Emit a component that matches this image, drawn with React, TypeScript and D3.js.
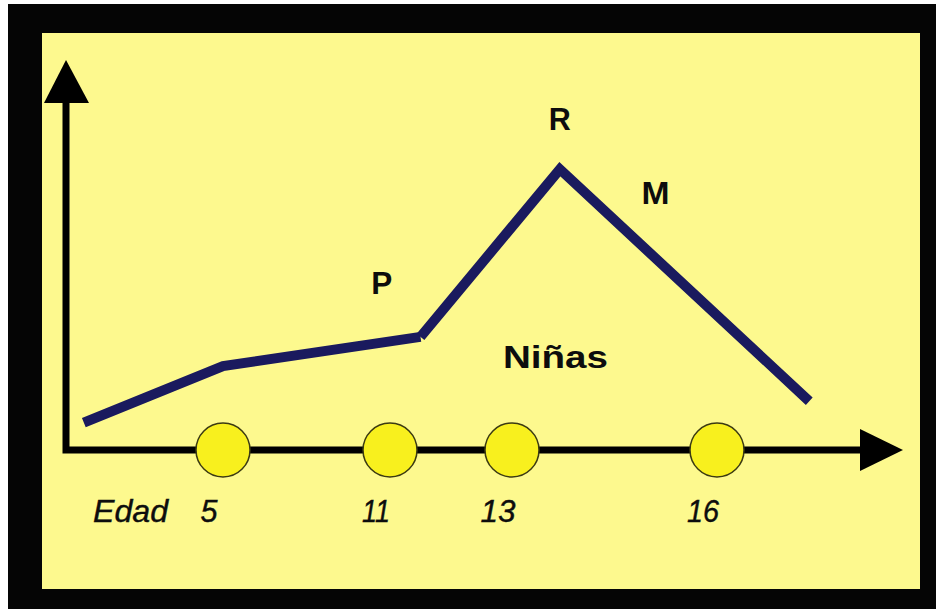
import React from "react";
import * as d3 from "d3";

// Ages marked on the horizontal axis
const ageTicks = [5, 11, 13, 16];
const ageTickLabels = ["5", "11", "13", "16"];

// Growth-velocity curve for girls (schematic units 0–100)
const curveAges = [0, 5, 11.5, 13.7, 17.35];
const curveValues = [7, 21.5, 29, 72, 12.5];

// Phase labels: P (prepuberal), R (rapid growth), M (maturation)
const phaseLabels = ["P", "R", "M"];
const phaseAges = [10.7, 13.7, 15.1];
const phaseValues = [40, 82, 63];

const W = 936;
const H = 609;

export default function App() {
  // Piecewise age scale: the schematic axis is not uniform in years
  const x = d3
    .scaleLinear()
    .domain(ageTicks)
    .range([223, 390, 512, 717]);
  const y = d3.scaleLinear().domain([0, 100]).range([450, 60]);

  const axisY = y(0);
  const axisX = 66;
  const yArrowTip = y(100);
  const yArrowBase = yArrowTip + 43;
  const xArrowTip = 903;
  const xArrowBase = xArrowTip - 43;

  const line = d3
    .line<[number, number]>()
    .x((d) => x(d[0]))
    .y((d) => y(d[1]));

  const pts: [number, number][] = curveAges.map((a, i) => [a, curveValues[i]]);
  // The curve is drawn as two strokes meeting at the start of the growth spurt
  const seg1 = pts.slice(0, 3);
  const seg2 = pts.slice(2);

  const labelFont = "'Liberation Sans', Arial, sans-serif";
  const ink = "#0d0d0d";
  const navy = "#1a1a5e";

  const phaseWidths = [21, 22, 28];
  const tickWidths = [17, 28, 35, 32];

  return (
    <svg
      width={W}
      height={H}
      viewBox={`0 0 ${W} ${H}`}
      style={{ position: "absolute", left: 0, top: 0, display: "block" }}
    >
      <rect x={0} y={0} width={W} height={H} fill="#ffffff" />
      <rect x={8} y={4} width={W - 8} height={H - 4} fill="#050505" />
      <rect x={42} y={33} width={878} height={556} fill="#fdf98e" />

      {/* axes */}
      <path
        d={`M${axisX},${yArrowBase} L${axisX},${axisY} L${xArrowBase},${axisY}`}
        fill="none"
        stroke="#000"
        strokeWidth={7}
        strokeLinejoin="miter"
      />
      <path
        d={`M${axisX},${yArrowTip} L${axisX - 22},${yArrowBase} L${axisX + 23},${yArrowBase} Z`}
        fill="#000"
      />
      <path
        d={`M${xArrowTip},${axisY} L${xArrowBase},${axisY - 21} L${xArrowBase},${axisY + 21} Z`}
        fill="#000"
      />

      {/* age markers */}
      {ageTicks.map((a) => (
        <circle
          key={a}
          cx={x(a)}
          cy={axisY}
          r={27}
          fill="#f8f01e"
          stroke="#3b3a12"
          strokeWidth={1.5}
        />
      ))}
      {ageTicks.map((a, i) => (
        <text
          key={`t${a}`}
          x={x(a) - 14}
          y={522}
          textAnchor="middle"
          fontFamily={labelFont}
          fontStyle="italic"
          fontSize={31}
          fill={ink}
          stroke={ink}
          strokeWidth={0.4}
          textLength={tickWidths[i]}
          lengthAdjust="spacingAndGlyphs"
        >
          {ageTickLabels[i]}
        </text>
      ))}
      <text
        x={93}
        y={522}
        fontFamily={labelFont}
        fontStyle="italic"
        fontSize={31}
        fill={ink}
        stroke={ink}
        strokeWidth={0.4}
        textLength={75}
        lengthAdjust="spacingAndGlyphs"
      >
        Edad
      </text>

      {/* growth curve */}
      {[seg1, seg2].map((s, i) => (
        <path
          key={i}
          d={line(s) || ""}
          fill="none"
          stroke={navy}
          strokeWidth={10}
          strokeLinejoin="miter"
          strokeLinecap="butt"
        />
      ))}

      {/* phase labels */}
      {phaseLabels.map((p, i) => (
        <text
          key={p}
          x={x(phaseAges[i])}
          y={y(phaseValues[i])}
          textAnchor="middle"
          fontFamily={labelFont}
          fontWeight="bold"
          fontSize={32}
          fill={ink}
          textLength={phaseWidths[i]}
          lengthAdjust="spacingAndGlyphs"
        >
          {p}
        </text>
      ))}
      <text
        x={503}
        y={368}
        fontFamily={labelFont}
        fontWeight="bold"
        fontSize={32}
        fill={ink}
        textLength={105}
        lengthAdjust="spacingAndGlyphs"
      >
        Niñas
      </text>
    </svg>
  );
}
